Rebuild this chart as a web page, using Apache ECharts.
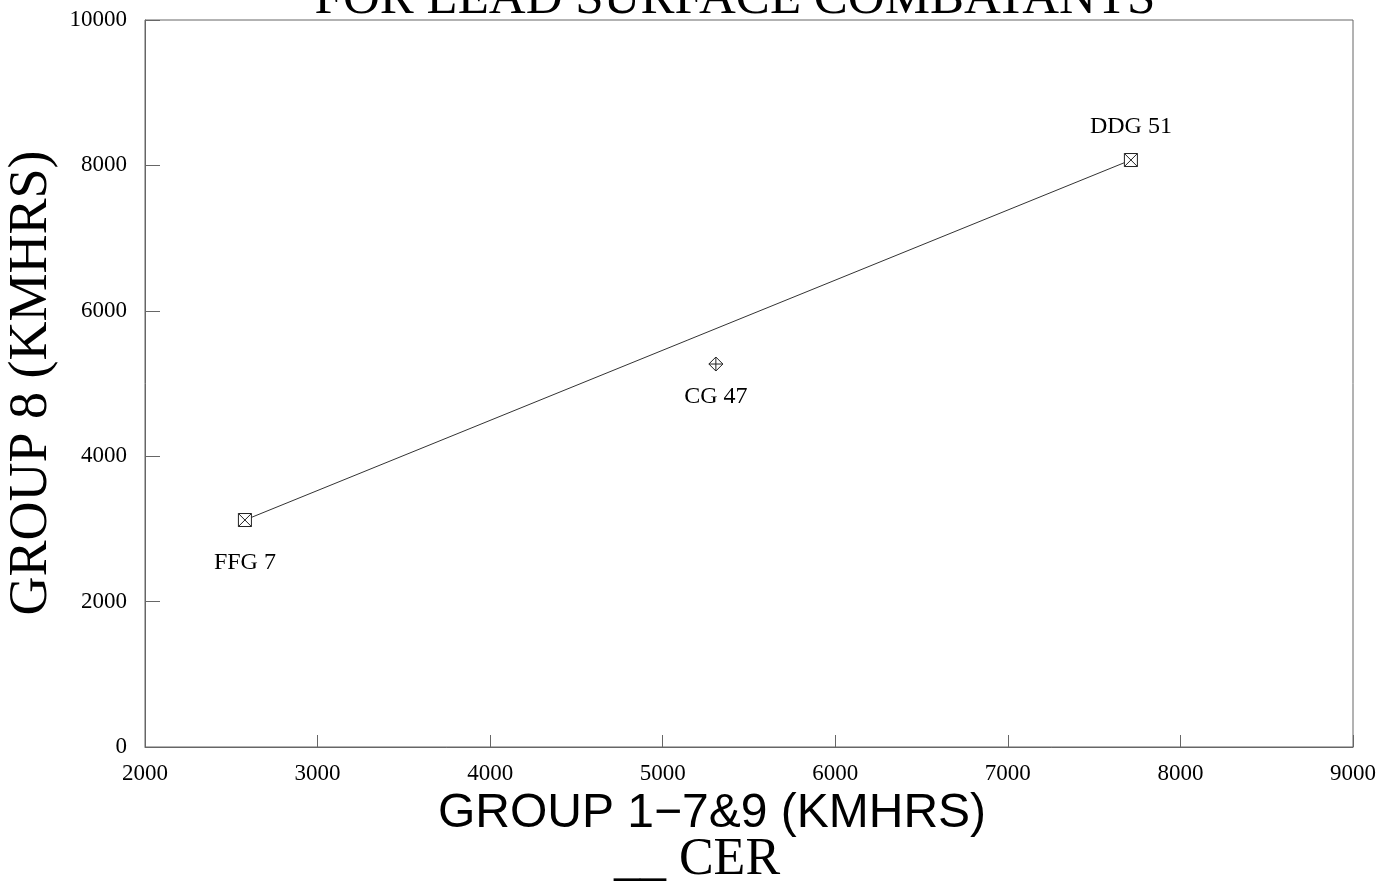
<!DOCTYPE html>
<html>
<head>
<meta charset="utf-8">
<title>Group 8 vs Group 1-7&9</title>
<script src="https://cdn.jsdelivr.net/npm/echarts@6/dist/echarts.min.js"></script>
<style>
  html, body { margin: 0; padding: 0; background: #fff; }
  #chart { width: 1397px; height: 882px; }
</style>
</head>
<body>
<div id="chart"></div>
<script>
// Ships on the CER line (Group 1-7&9 KMHRS vs Group 8 KMHRS)
const cerNames = ['FFG 7', 'DDG 51'];
const cerX = [2579, 7713];
const cerY = [3122, 8074];

// Ship plotted off the line
const otherNames = ['CG 47'];
const otherX = [5308];
const otherY = [5268];

// Axis ranges and tick steps
const xMin = 2000, xMax = 9000, xStep = 1000;
const yMin = 0, yMax = 10000, yStep = 2000;

const serif = '"Liberation Serif", "DejaVu Serif", serif';
const sans = '"Liberation Sans", Arial, sans-serif';

const boxX = 'path://M0,0 L10,0 L10,10 L0,10 Z M0,0 L10,10 M10,0 L0,10';
const diamondPlus = 'path://M5,0 L10,5 L5,10 L0,5 Z M5,0 L5,10 M0,5 L10,5';

const cerData = cerNames.map((n, i) => ({ name: n, value: [cerX[i], cerY[i]] }));
const otherData = otherNames.map((n, i) => ({ name: n, value: [otherX[i], otherY[i]] }));

// per-point label placement
const labelPos = {
  'FFG 7': { position: 'bottom', distance: 24 },
  'DDG 51': { position: 'top', distance: 14 },
  'CG 47': { position: 'bottom', distance: 13 }
};
function withLabels(arr) {
  return arr.map(d => Object.assign({}, d, { label: labelPos[d.name] }));
}

const plainNumber = v => String(v);

function textEl(text, x, y, family, size, rotation) {
  return {
    type: 'text', x: x, y: y, rotation: rotation || 0,
    style: {
      text: text, fontFamily: family, fontSize: size, fill: '#000',
      align: 'center', verticalAlign: 'middle'
    }
  };
}

const chart = echarts.init(document.getElementById('chart'), null, { renderer: 'canvas' });

chart.setOption({
  animation: false,
  backgroundColor: '#fff',
  grid: {
    left: 145, right: 44, top: 20, bottom: 135,
    show: true, borderColor: '#666', borderWidth: 1
  },
  xAxis: {
    type: 'value', min: xMin, max: xMax, interval: xStep,
    axisLine: { show: true, lineStyle: { color: '#666', width: 1 } },
    axisTick: { show: true, inside: true, length: 12, lineStyle: { color: '#666' } },
    minorTick: { show: false },
    axisLabel: { color: '#000', fontFamily: serif, fontSize: 23, margin: 15, formatter: plainNumber },
    splitLine: { show: false }
  },
  yAxis: {
    type: 'value', min: yMin, max: yMax, interval: yStep,
    axisLine: { show: true, lineStyle: { color: '#666', width: 1 } },
    axisTick: { show: true, inside: true, length: 15, lineStyle: { color: '#666' } },
    minorTick: { show: false },
    axisLabel: { color: '#000', fontFamily: serif, fontSize: 23, margin: 18, formatter: plainNumber },
    splitLine: { show: false }
  },
  series: [
    {
      name: 'CER',
      type: 'line',
      data: withLabels(cerData),
      symbol: boxX,
      symbolSize: 13,
      showSymbol: true,
      lineStyle: { color: '#333', width: 1 },
      itemStyle: { color: '#fff', borderColor: '#222', borderWidth: 1 },
      label: {
        show: true, formatter: '{b}', color: '#000',
        fontFamily: serif, fontSize: 24
      },
      emphasis: { disabled: true },
      z: 3
    },
    {
      name: 'Other',
      type: 'scatter',
      data: withLabels(otherData),
      symbol: diamondPlus,
      symbolSize: 14,
      itemStyle: { color: '#fff', borderColor: '#222', borderWidth: 1, opacity: 1 },
      label: {
        show: true, formatter: '{b}', color: '#000',
        fontFamily: serif, fontSize: 24
      },
      emphasis: { disabled: true },
      z: 3
    }
  ],
  graphic: [
    textEl('FOR LEAD SURFACE COMBATANTS', 735, 0, serif, 51),
    textEl('GROUP 8 (KMHRS)', 32, 383, serif, 54, Math.PI / 2),
    textEl('GROUP 1\u22127&9 (KMHRS)', 712, 814, sans, 48),
    textEl('__ CER', 697, 860, serif, 52)
  ]
});
</script>
</body>
</html>
